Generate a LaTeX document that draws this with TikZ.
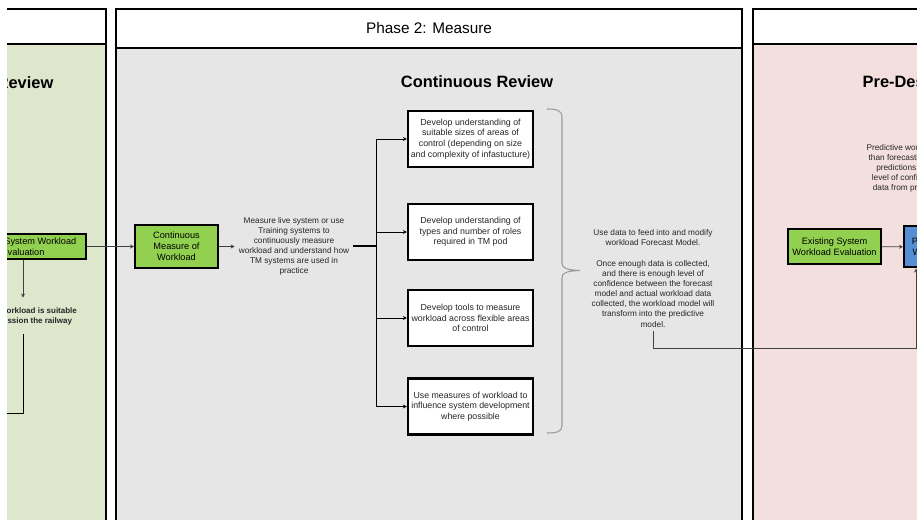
\documentclass[tikz,border=0pt]{standalone}
\usepackage{fontspec}
\setmainfont{Liberation Sans}
\usepackage{tikz}
\usetikzlibrary{arrows.meta,positioning,calc}
\definecolor{phasegreen}{HTML}{DEE7CB}
\definecolor{phasegray}{HTML}{E6E6E6}
\definecolor{phasepink}{HTML}{F2DFDE}
\definecolor{boxgreen}{HTML}{92D050}
\definecolor{boxblue}{HTML}{558ED5}
\definecolor{linkgray}{HTML}{404040}
\definecolor{bracegray}{HTML}{9C9C9C}
\definecolor{inkgray}{HTML}{262626}

\begin{document}
\begin{tikzpicture}[x=0.75pt, y=-0.75pt, >={Stealth[length=3pt,width=3pt]},
  panel/.style={draw, line width=1.2pt},
  headtext/.style={font=\fontsize{11.5}{13}\selectfont},
  titletext/.style={font=\fontsize{12.3}{14}\selectfont\bfseries},
  greenbox/.style={draw, line width=1.5pt, fill=boxgreen, align=center, inner sep=1pt, font=\fontsize{6.9}{8.3}\selectfont},
  taskbox/.style={draw, line width=1.6pt, fill=white, align=center, inner sep=1pt, minimum width=93.75pt, minimum height=42pt, font=\fontsize{6.6}{8}\selectfont, text=inkgray},
  notetext/.style={align=center, inner sep=1pt, font=\fontsize{6.2}{7.6}\selectfont, text=inkgray},
  link/.style={linkgray, line width=0.6pt},
  branch/.style={black, line width=0.7pt}]
\useasboundingbox (0,0) rectangle (917,520);
\fill[white] (0,0) rectangle (917,520);
\clip (7,0) rectangle (917,520);
% phase panels
\filldraw[panel, fill=phasegreen] (-20,44) rectangle (106,540);
\filldraw[panel, fill=white] (-20,9) rectangle (106,44);
\filldraw[panel, fill=phasegray] (116,48) rectangle (742,540);
\filldraw[panel, fill=white] (116,9) rectangle (742,48);
\filldraw[panel, fill=phasepink] (753,44) rectangle (940,540);
\filldraw[panel, fill=white] (753,9) rectangle (940,44);
\node[headtext] (ph2) at (429,28) {Phase 2: Measure};
\node[titletext, anchor=east] (revL) at (58,83) {Initial Review};
\node[titletext] (revM) at (477,82) {Continuous Review};
\node[titletext, anchor=west] (revR) at (858,83) {Pre-Design Review};
% phase 1
\node[greenbox, minimum width=94.5pt, minimum height=18.75pt] (exL) at (23,246.5) {Existing System Workload\\Evaluation};
\node[notetext, font=\fontsize{6}{7.6}\selectfont\bfseries, inner ysep=7pt] (suit) at (22,316) {Existing workload is suitable\\to commission the railway};
\coordinate (lbend) at (23,413);
\coordinate (lfree) at (0,413);
\draw[->, link] (exL.south) -- (exL.south |- suit.north);
\draw[branch] (lbend |- suit.south) -- (lbend) -- (lfree);
% phase 2
\node[greenbox, minimum width=62.25pt, minimum height=32.25pt] (cmw) at (176.5,246.5) {Continuous\\Measure of\\Workload};
\node[notetext, inner xsep=3pt] (meas) at (294,246.5) {Measure live system or use\\Training systems to\\continuously measure\\workload and understand how\\TM systems are used in\\practice};
\coordinate (br) at (376,246.5);
\node[taskbox] (t1) at (470.5,139) {Develop understanding of\\suitable sizes of areas of\\control (depending on size\\and complexity of infastucture)};
\node[taskbox] (t2) at (470.5,232) {Develop understanding of\\types and number of roles\\required in TM pod};
\node[taskbox] (t3) at (470.5,318) {Develop tools to measure\\workload across flexible areas\\of control};
\node[taskbox] (t4) at (470.5,406.5) {Use measures of workload to\\influence system development\\where possible};
\draw[->, link] (exL) -- (cmw);
\draw[->, link] (cmw) -- (meas);
\draw[line width=1.5pt] (meas.east) -- (br);
\draw[branch] (br |- t1) -- (br |- t4);
\foreach \t in {t1,t2,t3,t4} \draw[->, branch] (br |- \t) -- (\t);
\draw[bracegray, line width=0.8pt] (547,109) .. controls (556,109) and (562,110) .. (562,117) -- (562,263) .. controls (562,268) and (566,270) .. (580,270.5) .. controls (566,271) and (562,273) .. (562,278) -- (562,426) .. controls (562,432) and (556,433) .. (547,433);
\node[notetext] (data) at (653,278.5) {Use data to feed into and modify\\workload Forecast Model.\\[7.6pt]Once enough data is collected,\\and there is enough level of\\confidence between the forecast\\model and actual workload data\\collected, the workload model will\\transform into the predictive\\model.};
% phase 3
\node[notetext] (pred) at (936,168.5) {Predictive workload modelling is more\\than forecasting as it is based on the\\predictions of the forecast model\\level of confidence gained from the\\data from previous phases of work};
\node[greenbox, minimum width=69.75pt, minimum height=26.25pt] (exR) at (834.5,246.5) {Existing System\\Workload Evaluation};
\node[greenbox, fill=boxblue, minimum width=42pt, minimum height=30.75pt, anchor=west] (pwm) at (903,247) {Predictive\\Workload};
\coordinate (cnr) at (916,348);
\draw[->, link] (exR) -- (pwm);
\draw[->, link] ([yshift=-2pt]data.south) |- (cnr) -- (cnr |- pwm.south);
\end{tikzpicture}
\end{document}
